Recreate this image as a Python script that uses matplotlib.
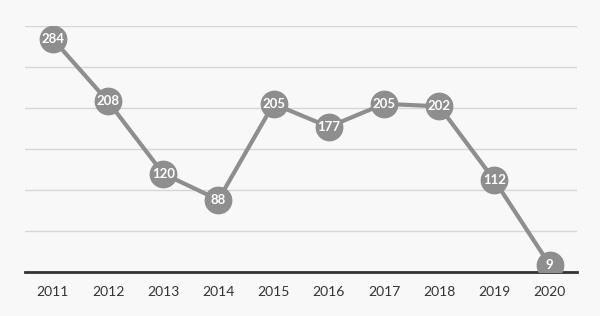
import matplotlib.pyplot as plt

years = ["2011", "2012", "2013", "2014", "2015", "2016", "2017", "2018", "2019", "2020"]
values = [284, 208, 120, 88, 205, 177, 205, 202, 112, 9]

plt.rcParams["font.family"] = ["Lato", "DejaVu Sans"]

fig = plt.figure(figsize=(6, 3.16), dpi=100)
fig.patch.set_facecolor("#f8f8f8")
ax = fig.add_axes([0.042, 0.139, 0.92, 0.779])
ax.set_facecolor("#f8f8f8")

x = range(len(years))
ax.plot(x, values, color="#8e8e8e", linewidth=3, marker="o",
        markersize=19, markerfacecolor="#8e8e8e", markeredgecolor="#8e8e8e",
        zorder=3)

for xi, v in zip(x, values):
    ax.text(xi, v, str(v), color="white", fontsize=9.5, fontweight="bold",
            ha="center", va="center", zorder=4)

ax.set_xlim(-0.5, len(years) - 0.5)
ax.set_ylim(0, 300)
ax.set_yticks(range(0, 301, 50))
ax.set_xticks(list(x))
ax.set_xticklabels(years, fontsize=10, color="#333333")
ax.tick_params(axis="x", length=0, pad=10)
ax.tick_params(axis="y", length=0, labelleft=False)
ax.grid(axis="y", color="#d6d6d6", linewidth=1)
ax.set_axisbelow(True)

for side in ["top", "right", "left"]:
    ax.spines[side].set_visible(False)
ax.spines["bottom"].set_color("#333333")
ax.spines["bottom"].set_linewidth(2)
ax.spines["bottom"].set_zorder(2)

plt.savefig("out.png", dpi=100, facecolor=fig.get_facecolor())
